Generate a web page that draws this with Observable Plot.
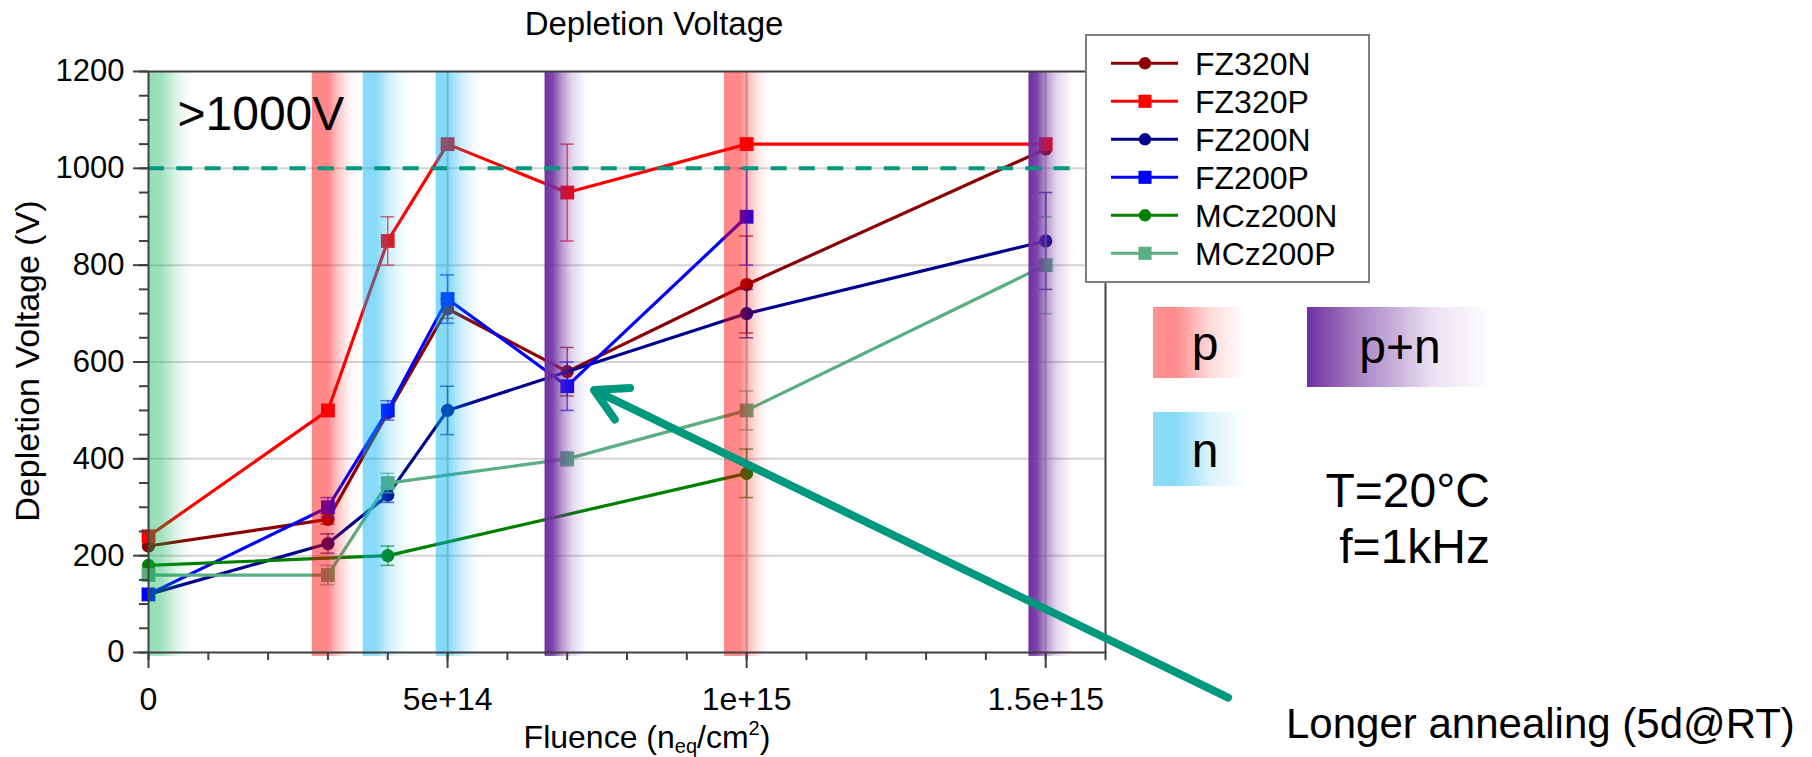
<!DOCTYPE html>
<html><head><meta charset="utf-8">
<script src="https://cdn.jsdelivr.net/npm/d3@7"></script>
<script src="https://cdn.jsdelivr.net/npm/@observablehq/plot@0.6"></script>
<style>
html,body{margin:0;padding:0;background:#fff;}
#chart{position:relative;width:1812px;height:757px;}
svg text{font-family:"Liberation Sans", Arial, sans-serif;}
</style></head><body><div id="chart"></div>
<script>
// ---------------- data ----------------
const seriesNames   = ["FZ320N", "FZ320P", "FZ200N", "FZ200P", "MCz200N", "MCz200P"];
const seriesColors  = ["#8b0000", "#ff0000", "#00008b", "#0000ff", "#008000", "#5aae80"];
const seriesSymbols = ["circle", "square", "circle", "square", "circle", "square"];

const fz320nFluence = [0, 3e14, 4e14, 5e14, 7e14, 1e15, 1.5e15];
const fz320nV       = [220, 275, 495, 710, 580, 760, 1040];
const fz320nErr     = [0, 10, 0, 20, 50, 100, 0];

const fz320pFluence = [0, 3e14, 4e14, 5e14, 7e14, 1e15, 1.5e15];
const fz320pV       = [240, 500, 850, 1050, 950, 1050, 1050];
const fz320pErr     = [0, 0, 50, 0, 100, 0, 0];

const fz200nFluence = [0, 3e14, 4e14, 5e14, 1e15, 1.5e15];
const fz200nV       = [120, 225, 325, 500, 700, 850];
const fz200nErr     = [0, 20, 15, 50, 50, 100];

const fz200pFluence = [0, 3e14, 4e14, 5e14, 7e14, 1e15];
const fz200pV       = [120, 300, 500, 730, 550, 900];
const fz200pErr     = [0, 20, 20, 50, 50, 100];

const mcz200nFluence = [0, 4e14, 1e15];
const mcz200nV       = [180, 200, 370];
const mcz200nErr     = [0, 20, 50];

const mcz200pFluence = [0, 3e14, 4e14, 7e14, 1e15, 1.5e15];
const mcz200pV       = [160, 160, 350, 400, 500, 800];
const mcz200pErr     = [0, 20, 20, 15, 40, 100];

// annealing-type bands (fluence ranges)
const bandType  = ["none", "p", "n", "n", "pn", "p", "pn"];
const bandStart = [0, 2.74e14, 3.59e14, 4.81e14, 6.63e14, 9.63e14, 14.72e14];
const bandEnd   = [0.75e14, 3.5e14, 4.38e14, 5.59e14, 7.39e14, 10.4e14, 15.5e14];

const threshold = 1000;
const xMajor = [0, 5e14, 1e15, 1.5e15];
const xTickLabels = ["0", "5e+14", "1e+15", "1.5e+15"];
const yMajor = [0, 200, 400, 600, 800, 1000, 1200];
const yGrid = [200, 400, 600, 800, 1000];

// ---------------- tables ----------------
const seriesFluence = [fz320nFluence, fz320pFluence, fz200nFluence, fz200pFluence, mcz200nFluence, mcz200pFluence];
const seriesV = [fz320nV, fz320pV, fz200nV, fz200pV, mcz200nV, mcz200pV];
const seriesErr = [fz320nErr, fz320pErr, fz200nErr, fz200pErr, mcz200nErr, mcz200pErr];
const rows = seriesNames.flatMap((name, i) =>
  seriesFluence[i].map((f, j) => ({series: name, fluence: f, v: seriesV[i][j], err: seriesErr[i][j]})));
const bands = bandType.map((t, i) => ({type: t, start: bandStart[i], end: bandEnd[i]}));
const xMinor = d3.range(0, 17).map(i => i * 1e14);
const yMinor = d3.range(0, 25).map(i => i * 50);

// arrow annotation: from below-right towards the 7e14 points
const arrowData = [{fromF: 1.805e15, fromV: -93, toF: 0.745e15, toV: 542}];

// ---------------- marks ----------------
const teal = "#00997f";
const axisColor = "#404040";
const marks = [
  Plot.gridY({ticks: yGrid, stroke: "#d4d4d4", strokeOpacity: 1, strokeWidth: 2}),
  Plot.gridX({ticks: [5e14, 1e15, 1.5e15], stroke: "#c4c4c4", strokeOpacity: 1, strokeWidth: 2})
];
seriesNames.forEach((name, i) => {
  const d = rows.filter(r => r.series === name);
  const e = d.filter(r => r.err > 0);
  const c = seriesColors[i];
  const eb = {stroke: c, strokeWidth: 1.6, strokeOpacity: 0.65};
  marks.push(
    Plot.ruleX(e, {x: "fluence", y1: r => r.v - r.err, y2: r => r.v + r.err, ...eb}),
    Plot.ruleY(e, {y: r => r.v + r.err, x1: "fluence", x2: "fluence", insetLeft: -7, insetRight: -7, ...eb}),
    Plot.ruleY(e, {y: r => r.v - r.err, x1: "fluence", x2: "fluence", insetLeft: -7, insetRight: -7, ...eb}),
    Plot.line(d, {x: "fluence", y: "v", stroke: c, strokeWidth: 3.2}),
    Plot.dot(d, {x: "fluence", y: "v", symbol: seriesSymbols[i], r: seriesSymbols[i] === "square" ? 7.8 : 6.6, fill: c, stroke: "none"})
  );
});
["none", "p", "n", "pn"].forEach(t => marks.push(
  Plot.rect(bands.filter(b => b.type === t), {x1: "start", x2: "end", y1: -8, y2: 1200, fill: `url(#band-${t})`})
));
marks.push(
  Plot.ruleY([threshold], {x1: 0, x2: 1.555e15, stroke: teal, strokeWidth: 4, strokeDasharray: "16 12.3"}),
  Plot.text([">1000V"], {frameAnchor: "top-left", dx: 29, dy: 58, textAnchor: "start", lineAnchor: "bottom", fontSize: 48, fill: "black"}),
  Plot.text(["Depletion Voltage"], {frameAnchor: "top", dx: 27, dy: -37, lineAnchor: "bottom", fontSize: 33, fill: "black"}),
  Plot.frame({stroke: axisColor, strokeWidth: 2}),
  Plot.axisY({ticks: yMajor, tickSize: 15, tickPadding: 9, tickFormat: d => String(d), fontSize: 31, stroke: axisColor, strokeWidth: 2, label: null}),
  Plot.axisY({ticks: yMinor, tickSize: 9, tickFormat: () => "", stroke: axisColor, strokeWidth: 2, label: null}),
  Plot.axisX({ticks: xMajor, tickSize: 16, tickPadding: 19, tickFormat: d => xTickLabels[xMajor.indexOf(d)], fontSize: 32, stroke: axisColor, strokeWidth: 2, label: null}),
  Plot.axisX({ticks: xMinor, tickSize: 8, tickFormat: () => "", stroke: axisColor, strokeWidth: 2, label: null}),
  Plot.arrow(arrowData, {x1: "fromF", y1: "fromV", x2: "toF", y2: "toV", stroke: teal, strokeWidth: 8, headLength: 6.75, headAngle: 58})
);

const plot = Plot.plot({
  width: 1812, height: 757,
  marginLeft: 148, marginRight: 707, marginTop: 71, marginBottom: 105,
  x: {domain: [0, 1.6e15]},
  y: {domain: [0, 1200]},
  style: {fontFamily: '"Liberation Sans", Arial, sans-serif', color: "#000", background: "white", overflow: "visible"},
  marks
});
document.getElementById("chart").appendChild(plot);

// ---------------- gradients ----------------
const svg = d3.select(plot);
const grads = {
  "band-none": ["#00b050", [[0, .42], [.3, .38], [.6, .15], [.85, .04], [1, 0]]],
  "band-p":    ["#ff0000", [[0, .47], [.35, .47], [.6, .2], [.8, .06], [1, 0]]],
  "band-n":    ["#00b0f0", [[0, .47], [.28, .47], [.55, .2], [.8, .06], [1, 0]]],
  "band-pn":   ["#7030a0", [[0, 1], [.18, .9], [.38, .5], [.6, .2], [.9, .03], [1, 0]]],
  "key-p":     ["#ff0000", [[0, .43], [.2, .47], [.55, .15], [.9, 0], [1, 0]]],
  "key-n":     ["#00b0f0", [[0, .45], [.22, .47], [.55, .15], [.92, 0], [1, 0]]],
  "key-pn":    ["#7030a0", [[0, 1], [.28, .6], [.5, .35], [.68, .14], [1, 0]]]
};
const defs = svg.insert("defs", ":first-child");
Object.entries(grads).forEach(([id, [col, stops]]) => {
  const g = defs.append("linearGradient").attr("id", id).attr("x1", 0).attr("x2", 1).attr("y1", 0).attr("y2", 0);
  stops.forEach(([o, a]) => g.append("stop").attr("offset", o).attr("stop-color", col).attr("stop-opacity", a));
});

// ---------------- axis titles ----------------
const font = '"Liberation Sans", Arial, sans-serif';
const xt = svg.append("text").attr("x", 647).attr("y", 748).attr("text-anchor", "middle")
  .attr("font-size", 32).attr("font-family", font).attr("fill", "black");
xt.append("tspan").text("Fluence (n");
xt.append("tspan").attr("font-size", 20).attr("dy", 5).text("eq");
xt.append("tspan").attr("dy", -5).text("/cm");
xt.append("tspan").attr("font-size", 20).attr("dy", -13).text("2");
xt.append("tspan").attr("dy", 13).text(")");

svg.append("text").attr("transform", "translate(39,361) rotate(-90)").attr("text-anchor", "middle")
  .attr("font-size", 34).attr("font-family", font).attr("fill", "black").text("Depletion Voltage (V)");

// ---------------- legend ----------------
const lg = svg.append("g");
lg.append("rect").attr("x", 1086).attr("y", 35).attr("width", 283).attr("height", 247)
  .attr("fill", "white").attr("stroke", "#7f7f7f").attr("stroke-width", 2);
seriesNames.forEach((name, i) => {
  const cy = 63.3 + i * 38;
  const c = seriesColors[i];
  lg.append("line").attr("x1", 1111).attr("x2", 1178).attr("y1", cy).attr("y2", cy).attr("stroke", c).attr("stroke-width", 3);
  const sym = seriesSymbols[i] === "square" ? d3.symbolSquare : d3.symbolCircle;
  const size = seriesSymbols[i] === "square" ? 172 : 120;
  lg.append("path").attr("transform", `translate(1145,${cy})`).attr("d", d3.symbol(sym, size)()).attr("fill", c);
  lg.append("text").attr("x", 1195).attr("y", cy).attr("dy", "0.36em").attr("text-anchor", "start").attr("font-size", 32)
    .attr("font-family", font).attr("fill", "black").text(name);
});

// ---------------- keys & notes ----------------
const keys = [
  {id: "key-p", label: "p", x: 1153, y: 307, w: 103, h: 71, tx: 1205, ty: 360},
  {id: "key-pn", label: "p+n", x: 1307, y: 307, w: 186, h: 80, tx: 1400, ty: 363},
  {id: "key-n", label: "n", x: 1153, y: 412, w: 103, h: 74, tx: 1205, ty: 467}
];
keys.forEach(k => {
  svg.append("rect").attr("x", k.x).attr("y", k.y).attr("width", k.w).attr("height", k.h).attr("fill", `url(#${k.id})`);
  svg.append("text").attr("x", k.tx).attr("y", k.ty).attr("text-anchor", "middle").attr("font-size", 48)
    .attr("font-family", font).attr("fill", "black").text(k.label);
});
svg.append("text").attr("x", 1490).attr("y", 507).attr("text-anchor", "end").attr("font-size", 48)
  .attr("font-family", font).attr("fill", "black").text("T=20°C");
svg.append("text").attr("x", 1490).attr("y", 563).attr("text-anchor", "end").attr("font-size", 48)
  .attr("font-family", font).attr("fill", "black").text("f=1kHz");
svg.append("text").attr("x", 1286).attr("y", 738).attr("text-anchor", "start").attr("font-size", 42)
  .attr("font-family", font).attr("fill", "black").text("Longer annealing (5d@RT)");
</script></body></html>
